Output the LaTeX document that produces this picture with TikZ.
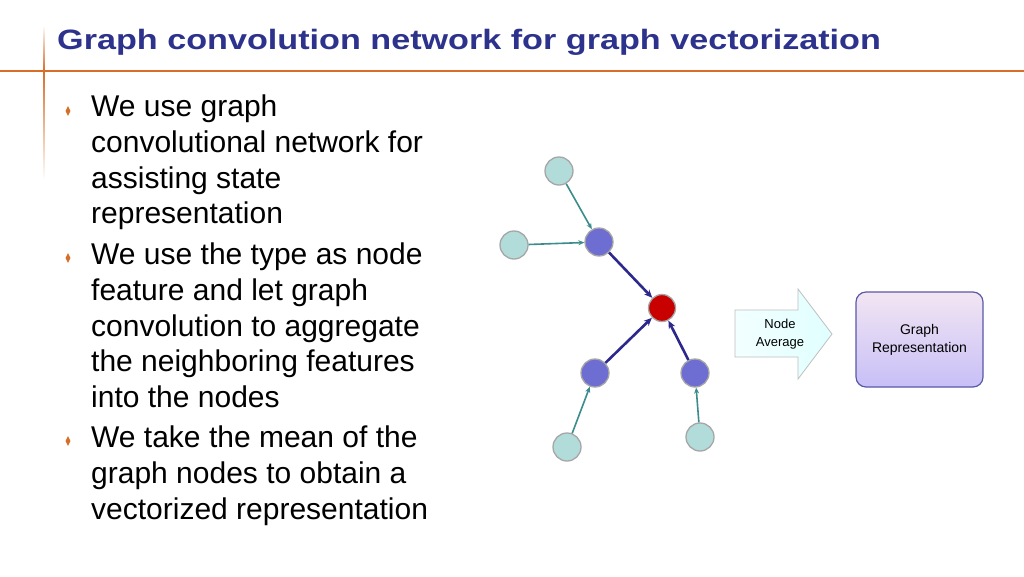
\documentclass[tikz,border=0pt]{standalone}
\usepackage{fontspec}
\setmainfont{Liberation Sans}
\usetikzlibrary{arrows.meta,shapes.geometric}
\definecolor{ttl}{RGB}{45,50,140}
\definecolor{org}{RGB}{215,110,40}
\definecolor{leaf}{RGB}{178,220,218}
\definecolor{mid}{RGB}{110,110,210}
\definecolor{ctr}{RGB}{200,0,0}
\definecolor{tealc}{RGB}{60,140,140}
\definecolor{navy}{RGB}{45,40,140}
\tikzset{
 leafn/.style={circle,draw=gray!70,line width=1.3pt,fill=leaf,minimum size=28pt,inner sep=0},
 midn/.style={circle,draw=gray!70,line width=1.3pt,fill=mid,minimum size=28pt,inner sep=0},
 ctrn/.style={circle,draw=gray!70,line width=1.3pt,fill=ctr,minimum size=27pt,inner sep=0},
 thin/.style={draw=tealc,line width=1.6pt,-{Stealth[length=6pt,width=5pt]}},
 thick/.style={draw=navy,line width=2.6pt,-{Stealth[length=8pt,width=7pt]}},
 body/.style={anchor=base west,font=\fontsize{30}{34}\selectfont,inner sep=0},
 bul/.style={diamond,fill=org,inner sep=0,minimum width=5pt,minimum height=10pt}
}
\begin{document}
\begin{tikzpicture}[x=1pt,y=-1pt]
\useasboundingbox (0,0) rectangle (1024,576);
\fill[white] (0,0) rectangle (1024,576);
\draw[org,line width=1.2pt] (0,71) -- (1024,71);
\shade[top color=white,bottom color=org] (43.5,25) rectangle (44.5,71);
\shade[top color=org,bottom color=white] (43.5,71) rectangle (44.5,180);
\node[anchor=base west,inner sep=0,text=ttl,font=\fontsize{28}{32}\selectfont\bfseries,xscale=1.22] (title) at (57,49) {Graph convolution network for graph vectorization};
\node[bul] (b1) at (68,111) {};
\node[bul] (b2) at (68,258) {};
\node[bul] (b3) at (68,441) {};
\node[body] (l1) at (91,116) {We use graph};
\node[body] (l2) at (91,152) {convolutional network for};
\node[body] (l3) at (91,188) {assisting state};
\node[body] (l4) at (91,223) {representation};
\node[body] (l5) at (91,264) {We use the type as node};
\node[body] (l6) at (91,300) {feature and let graph};
\node[body] (l7) at (91,336) {convolution to aggregate};
\node[body] (l8) at (91,371) {the neighboring features};
\node[body] (l9) at (91,407) {into the nodes};
\node[body] (l10) at (91,447) {We take the mean of the};
\node[body] (l11) at (91,483) {graph nodes to obtain a};
\node[body] (l12) at (91,519) {vectorized representation};
\node[leafn] (a) at (559,171) {};
\node[leafn] (b) at (514,245) {};
\node[leafn] (c) at (567,447) {};
\node[leafn] (d) at (700,437) {};
\node[midn] (p) at (599,242) {};
\node[midn] (q) at (595,373) {};
\node[midn] (r) at (695,373) {};
\node[ctrn] (z) at (662,308) {};
\draw[thin] (a) -- (p);
\draw[thin] (b) -- (p);
\draw[thin] (c) -- (q);
\draw[thin] (d) -- (r);
\draw[thick] (p) -- (z);
\draw[thick] (q) -- (z);
\draw[thick] (r) -- (z);
\path[draw=gray!50,left color=cyan!5,right color=cyan!12,line width=0.8pt] (735,310) -- (798,310) -- (798,289) -- (832,334) -- (798,379) -- (798,357) -- (735,357) -- cycle;
\node[font=\fontsize{13}{18}\selectfont,align=center] (avg) at (780,334) {Node\\Average};
\node[draw=gray!70!blue,line width=1.2pt,rounded corners=10pt,top color=white!90!violet,bottom color=violet!25!blue!25,minimum width=127pt,minimum height=95pt,font=\fontsize{14}{18}\selectfont,align=center] (g) at (919.5,339.5) {Graph\\Representation};
\end{tikzpicture}
\end{document}
